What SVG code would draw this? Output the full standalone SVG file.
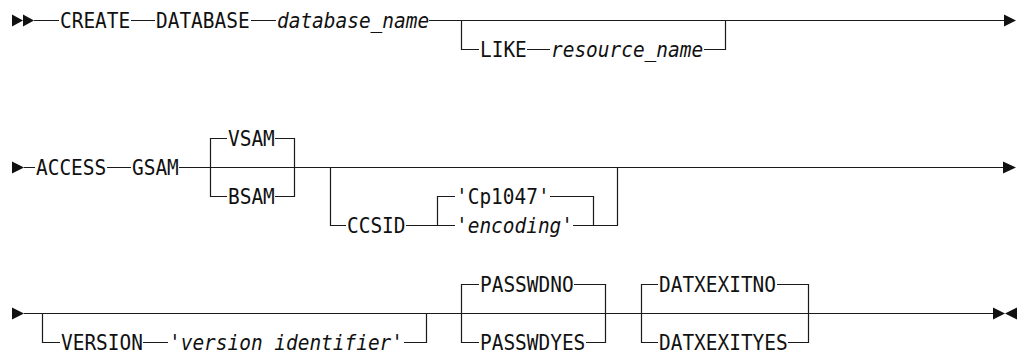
<svg xmlns="http://www.w3.org/2000/svg" width="1019" height="353" viewBox="0 0 1019 353">
<style>
.ln{stroke:#1a1a1a;stroke-width:1.2;fill:none}
.ah{fill:#111;stroke:none}
.t{font-family:"DejaVu Sans Mono","Liberation Mono",monospace;font-size:21px;fill:#111}
.i{font-style:italic}
</style>
<rect width="1019" height="353" fill="#fff"/>
<g id="connectors">
<!-- row 1 -->
<polygon class="ah" points="12,14.5 23,20.5 12,26.5"/>
<polygon class="ah" points="23,14.5 34,20.5 23,26.5"/>
<path class="ln" d="M34,20.5H59M131,20.5H155M251,20.5H276M429,20.5H1004"/>
<path class="ln" d="M461.5,20.5V49.5H479M527,49.5H550M704,49.5H725.5V20.5"/>
<polygon class="ah" points="1004,14.5 1016,20.5 1004,26.5"/>
<!-- row 2 -->
<polygon class="ah" points="12,161.5 24,167.5 12,173.5"/>
<path class="ln" d="M24,167.5H35M107,167.5H131M179,167.5H1003"/>
<path class="ln" d="M227,138.5H210.5V196.5H227M275,138.5H294.5V196.5H275"/>
<path class="ln" d="M330.5,167.5V225.5H346M406,225.5H437.5M455,196.5H437.5V225.5H455M550,196.5H593.5V225.5M573,225.5H617.5V167.5"/>
<polygon class="ah" points="1003,161.5 1016,167.5 1003,173.5"/>
<!-- row 3 -->
<polygon class="ah" points="12,307.5 24,313.5 12,319.5"/>
<path class="ln" d="M24,313.5H993"/>
<path class="ln" d="M42.5,313.5V342.5H60M143,342.5H168M404,342.5H426.5V313.5"/>
<path class="ln" d="M479,284.5H461.5V342.5H479M574,284.5H605.5V342.5H586"/>
<path class="ln" d="M658,284.5H641.5V342.5H658M777,284.5H808.5V342.5H788"/>
<polygon class="ah" points="993,307.5 1005,313.5 993,319.5"/>
<polygon class="ah" points="1017,307.5 1005,313.5 1017,319.5"/>
</g>
<g id="n-create"><text class="t" x="60" y="27.5" textLength="70.2" lengthAdjust="spacingAndGlyphs">CREATE</text></g>
<g id="n-database"><text class="t" x="156" y="27.5" textLength="93.6" lengthAdjust="spacingAndGlyphs">DATABASE</text></g>
<g id="n-database-name"><text class="t i" x="277" y="27.5" textLength="152.1" lengthAdjust="spacingAndGlyphs">database_name</text></g>
<g id="n-like"><text class="t" x="480" y="56.5" textLength="46.8" lengthAdjust="spacingAndGlyphs">LIKE</text></g>
<g id="n-resource-name"><text class="t i" x="551" y="56.5" textLength="152.1" lengthAdjust="spacingAndGlyphs">resource_name</text></g>
<g id="n-access"><text class="t" x="36" y="174.5" textLength="70.2" lengthAdjust="spacingAndGlyphs">ACCESS</text></g>
<g id="n-gsam"><text class="t" x="132" y="174.5" textLength="46.8" lengthAdjust="spacingAndGlyphs">GSAM</text></g>
<g id="n-vsam"><text class="t" x="228" y="145.5" textLength="46.8" lengthAdjust="spacingAndGlyphs">VSAM</text></g>
<g id="n-bsam"><text class="t" x="228" y="203.5" textLength="46.8" lengthAdjust="spacingAndGlyphs">BSAM</text></g>
<g id="n-ccsid"><text class="t" x="347" y="232.5" textLength="58.5" lengthAdjust="spacingAndGlyphs">CCSID</text></g>
<g id="n-cp1047"><text class="t" x="456" y="203.5" textLength="93.6" lengthAdjust="spacingAndGlyphs">'Cp1047'</text></g>
<g id="n-encoding"><text class="t i" x="456" y="232.5" textLength="117" lengthAdjust="spacingAndGlyphs">'encoding'</text></g>
<g id="n-version"><text class="t" x="61" y="349.5" textLength="81.9" lengthAdjust="spacingAndGlyphs">VERSION</text></g>
<g id="n-version-id"><text class="t i" x="169" y="349.5" textLength="234" lengthAdjust="spacingAndGlyphs">'version identifier'</text></g>
<g id="n-passwdno"><text class="t" x="480" y="291.5" textLength="93.6" lengthAdjust="spacingAndGlyphs">PASSWDNO</text></g>
<g id="n-passwdyes"><text class="t" x="480" y="349.5" textLength="105.3" lengthAdjust="spacingAndGlyphs">PASSWDYES</text></g>
<g id="n-datxexitno"><text class="t" x="659" y="291.5" textLength="117" lengthAdjust="spacingAndGlyphs">DATXEXITNO</text></g>
<g id="n-datxexityes"><text class="t" x="659" y="349.5" textLength="128.7" lengthAdjust="spacingAndGlyphs">DATXEXITYES</text></g>
</svg>
